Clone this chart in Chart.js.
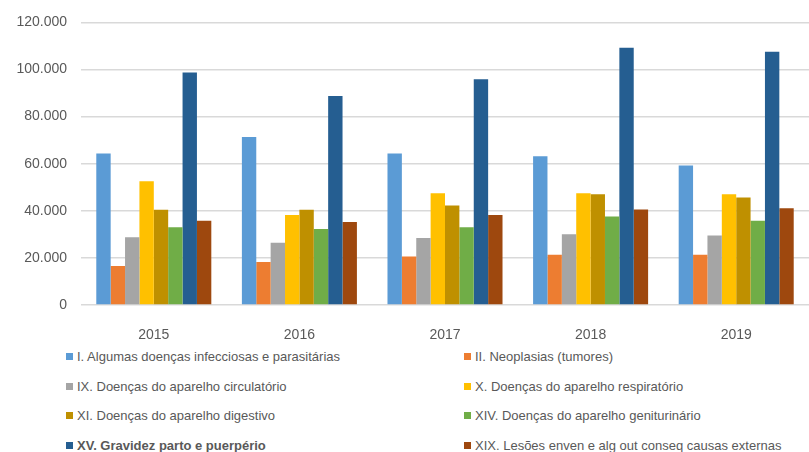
<!DOCTYPE html>
<html>
<head>
<meta charset="utf-8">
<script src="https://cdn.jsdelivr.net/npm/chart.js@4"></script>
<style>
  body { margin: 0; background: #fff; font-family: "Liberation Sans", Arial, sans-serif; }
  #wrap { position: relative; width: 809px; height: 452px; overflow: hidden; }
  #chart { position: absolute; left: 0; top: 0; }
  #legend {
    position: absolute; left: 66px; top: 342px;
    display: grid; grid-template-columns: 398px 340px; grid-auto-rows: 29.5px;
    font-size: 13px; color: #595959;
  }
  .item { display: flex; align-items: center; white-space: nowrap; }
  .box { width: 7px; height: 7px; margin-right: 4px; flex: none; }
</style>
</head>
<body>
<div id="wrap">
  <canvas id="chart" width="809" height="340"></canvas>
  <div id="legend"></div>
</div>
<script>
const years = ["2015", "2016", "2017", "2018", "2019"];

const labels = [
  "I. Algumas doenças infecciosas e parasitárias",
  "II. Neoplasias (tumores)",
  "IX. Doenças do aparelho circulatório",
  "X. Doenças do aparelho respiratório",
  "XI. Doenças do aparelho digestivo",
  "XIV. Doenças do aparelho geniturinário",
  "XV. Gravidez parto e puerpério",
  "XIX. Lesões enven e alg out conseq causas externas"
];

const infecciosas = [64300, 71300, 64300, 63200, 59200];
const neoplasias = [16600, 18300, 20600, 21300, 21300];
const circulatorio = [28800, 26400, 28400, 30000, 29500];
const respiratorio = [52600, 38200, 47400, 47400, 47000];
const digestivo = [40400, 40400, 42300, 47000, 45600];
const geniturinario = [33000, 32300, 33000, 37600, 35800];
const gravidez = [98700, 88700, 95900, 109200, 107500];
const lesoes = [35800, 35200, 38200, 40600, 41100];

const colors = ["#5B9BD5", "#ED7D31", "#A5A5A5", "#FFC000", "#BF9000", "#70AD47", "#255E91", "#9E480E"];
const series = [infecciosas, neoplasias, circulatorio, respiratorio, digestivo, geniturinario, gravidez, lesoes];

function fmt(v) {
  return String(v).replace(/\B(?=(\d{3})+(?!\d))/g, ".");
}

const chart = new Chart(document.getElementById("chart"), {
  type: "bar",
  data: {
    labels: years,
    datasets: series.map((s, i) => ({
      label: labels[i],
      data: s,
      backgroundColor: colors[i],
      borderWidth: 0,
      categoryPercentage: 0.79,
      barPercentage: 1.0
    }))
  },
  options: {
    responsive: false,
    animation: false,
    layout: { padding: { top: 19, right: 0, left: 0, bottom: 0 } },
    plugins: {
      legend: { display: false },
      tooltip: { enabled: false }
    },
    scales: {
      x: {
        grid: { display: false },
        border: { display: false },
        ticks: { color: "#595959", font: { family: "Liberation Sans", size: 14 }, padding: 14 },
        afterFit: s => { s.height = 35; }
      },
      y: {
        min: 0,
        max: 120000,
        grid: { color: "#D9D9D9", lineWidth: 1.5, drawTicks: false },
        border: { display: false },
        ticks: {
          stepSize: 20000,
          color: "#595959",
          font: { family: "Liberation Sans", size: 14 },
          padding: 14,
          callback: v => fmt(v)
        },
        afterFit: s => { s.width = 81; }
      }
    }
  }
});

// two-column legend like the original
const legend = document.getElementById("legend");
chart.data.datasets.forEach((ds, i) => {
  const item = document.createElement("div");
  item.className = "item";
  if (i === 6) item.style.fontWeight = "bold";
  item.innerHTML = `<span class="box" style="background:${ds.backgroundColor}"></span>${ds.label}`;
  legend.appendChild(item);
});
</script>
</body>
</html>
